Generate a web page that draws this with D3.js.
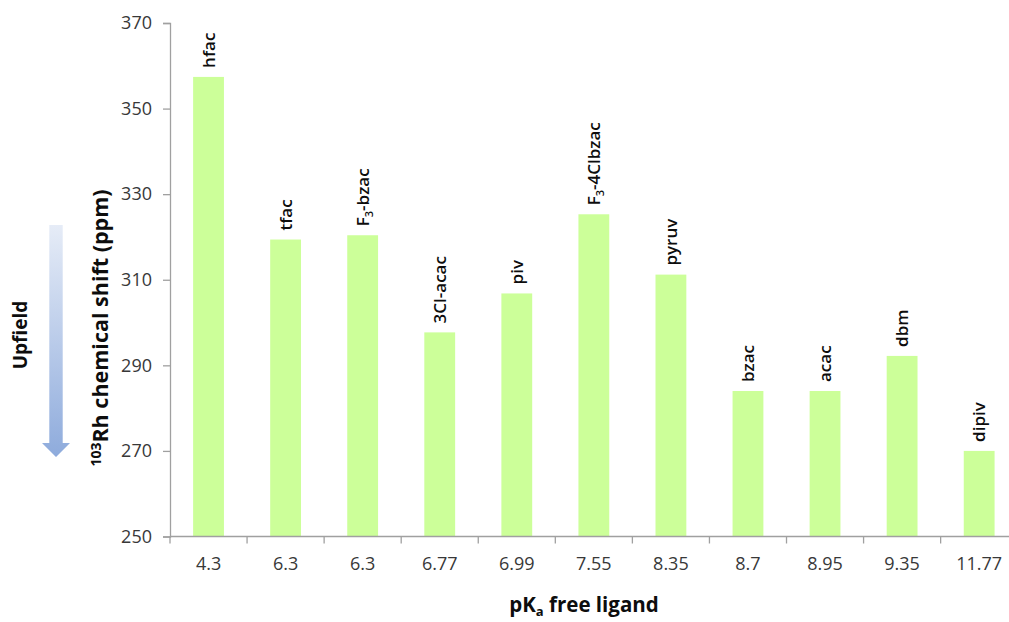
<!DOCTYPE html>
<html>
<head>
<meta charset="utf-8">
<script src="https://cdn.jsdelivr.net/npm/d3@7"></script>
<style>
  html, body { margin: 0; padding: 0; background: #ffffff; }
  svg { display: block; }
  text { font-family: "Open Sans", "Liberation Sans", sans-serif; }
</style>
</head>
<body>
<svg id="chart" width="1009" height="622"></svg>
<script>
// pKa of the free ligand (category labels along x)
const pKa = ["4.3", "6.3", "6.3", "6.77", "6.99", "7.55", "8.35", "8.7", "8.95", "9.35", "11.77"];
// ligand names; [main, subscript, rest]
const ligands = [
  ["hfac"], ["tfac"], ["F", "3", "-bzac"], ["3Cl-acac"], ["piv"],
  ["F", "3", "-4Clbzac"], ["pyruv"], ["bzac"], ["acac"], ["dbm"], ["dipiv"]
];
// 103Rh chemical shift (ppm)
const shifts = [357.4, 319.4, 320.4, 297.7, 306.8, 325.3, 311.2, 284.0, 284.0, 292.2, 270.0];
const yTicks = [250, 270, 290, 310, 330, 350, 370];

const data = pKa.map((p, i) => ({ key: i, pKa: p, name: ligands[i], value: shifts[i] }));

const svg = d3.select("#chart");
const axisColor = "#a0a0a0";
const textColor = "#383838";

const x = d3.scaleBand()
  .domain(data.map(d => d.key))
  .range([170, 1017.7])
  .paddingInner(0.6)
  .paddingOuter(0.3);

const y = d3.scaleLinear().domain([250, 370]).range([536.5, 23]);

// bars
svg.append("g").selectAll("rect")
  .data(data)
  .join("rect")
  .attr("x", d => x(d.key))
  .attr("width", x.bandwidth())
  .attr("y", d => y(d.value))
  .attr("height", d => y(250) - y(d.value))
  .attr("fill", "#ccff99");

// y axis
const yAxis = svg.append("g")
  .attr("transform", "translate(170,0)")
  .call(d3.axisLeft(y).tickValues(yTicks).tickSize(7).tickPadding(11).tickFormat(d3.format("d")));
yAxis.select(".domain").attr("stroke", axisColor).attr("stroke-width", 1.3);
yAxis.selectAll(".tick line").attr("stroke", axisColor).attr("stroke-width", 1.3);
yAxis.selectAll(".tick text").attr("fill", textColor).style("font-size", "18px")
  .style("font-family", "'Open Sans', sans-serif");

// x axis: baseline with ticks at category boundaries
const step = x.step();
const x0 = x.range()[0];
const xAxisG = svg.append("g");
xAxisG.append("line")
  .attr("x1", x0).attr("x2", x.range()[1])
  .attr("y1", y(250)).attr("y2", y(250))
  .attr("stroke", axisColor).attr("stroke-width", 1.3);
xAxisG.selectAll("line.tk")
  .data(d3.range(pKa.length + 1))
  .join("line")
  .attr("class", "tk")
  .attr("x1", i => x0 + i * step).attr("x2", i => x0 + i * step)
  .attr("y1", y(250)).attr("y2", y(250) + 7)
  .attr("stroke", axisColor).attr("stroke-width", 1.3);
xAxisG.selectAll("text")
  .data(data)
  .join("text")
  .attr("x", d => x(d.key) + x.bandwidth() / 2)
  .attr("y", 570)
  .attr("text-anchor", "middle")
  .attr("fill", textColor)
  .style("font-size", "18px")
  .text(d => d.pKa);

// ligand labels above bars, rotated
const lab = svg.append("g").selectAll("text")
  .data(data)
  .join("text")
  .attr("transform", d => `translate(${x(d.key) + x.bandwidth() / 2 + 6},${y(d.value) - 9}) rotate(-90)`)
  .attr("fill", "#0d0d0d")
  .style("font-size", "17px")
  .style("font-weight", "600");
lab.each(function (d) {
  const t = d3.select(this);
  t.append("tspan").text(d.name[0]);
  if (d.name.length > 1) {
    t.append("tspan").attr("dy", 4).style("font-size", "11px").text(d.name[1]);
    t.append("tspan").attr("dy", -4).text(d.name[2]);
  }
});

// y axis title
const yTitle = svg.append("text")
  .attr("transform", "translate(108,328) rotate(-90)")
  .attr("text-anchor", "middle")
  .attr("fill", "#0d0d0d")
  .style("font-size", "21.5px")
  .style("font-weight", "700");
yTitle.append("tspan").attr("dy", -7).style("font-size", "14px").text("103");
yTitle.append("tspan").attr("dy", 7).text("Rh chemical shift (ppm)");

// x axis title
const xTitle = svg.append("text")
  .attr("x", 584).attr("y", 612)
  .attr("text-anchor", "middle")
  .attr("fill", "#0d0d0d")
  .style("font-size", "20.5px")
  .style("font-weight", "700");
xTitle.append("tspan").text("pK");
xTitle.append("tspan").attr("dy", 4).style("font-size", "13px").text("a");
xTitle.append("tspan").attr("dy", -4).text(" free ligand");

// upfield arrow with gradient
const defs = svg.append("defs");
const grad = defs.append("linearGradient")
  .attr("id", "upfieldGrad")
  .attr("x1", 0).attr("y1", 0).attr("x2", 0).attr("y2", 1);
grad.append("stop").attr("offset", "0%").attr("stop-color", "#e6ecf7");
grad.append("stop").attr("offset", "100%").attr("stop-color", "#8eabdc");

const ax = 56, aTop = 225, aHeadTop = 443, aTip = 457, shaftHalf = 6.7, headHalf = 14;
svg.append("path")
  .attr("d", `M${ax - shaftHalf},${aTop} L${ax + shaftHalf},${aTop} L${ax + shaftHalf},${aHeadTop} L${ax + headHalf},${aHeadTop} L${ax},${aTip} L${ax - headHalf},${aHeadTop} L${ax - shaftHalf},${aHeadTop} Z`)
  .attr("fill", "url(#upfieldGrad)");

svg.append("text")
  .attr("transform", "translate(27,335) rotate(-90)")
  .attr("text-anchor", "middle")
  .attr("fill", "#0d0d0d")
  .style("font-size", "19px")
  .style("font-weight", "700")
  .text("Upfield");
</script>
</body>
</html>
